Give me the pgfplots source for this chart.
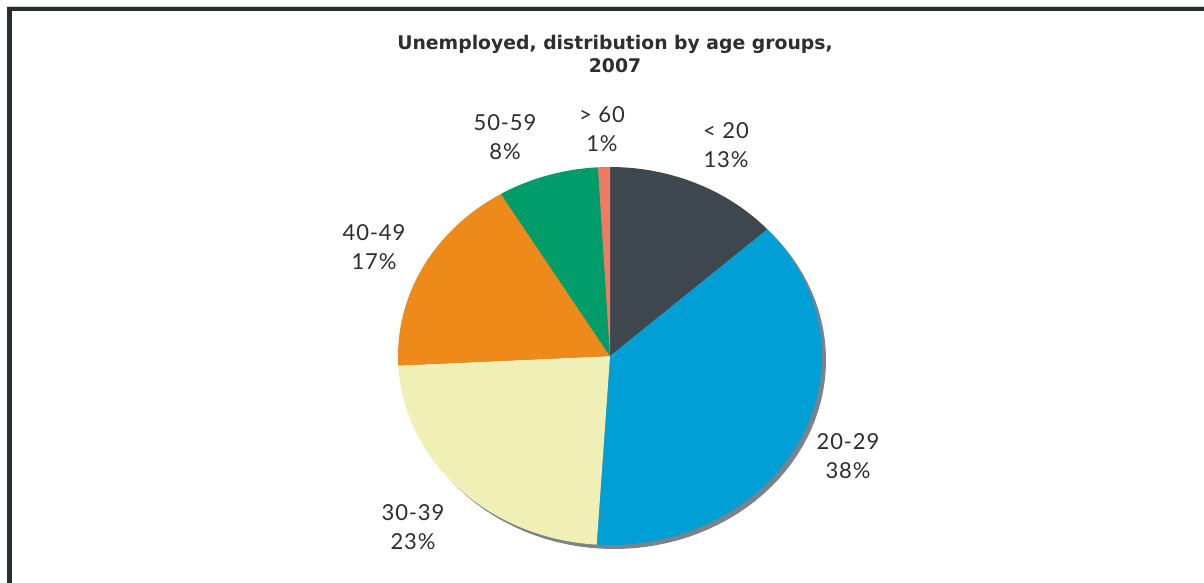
\documentclass[border=0pt]{standalone}
\usepackage{pgfplots}
\pgfplotsset{compat=1.18}
\usepackage{fontspec}
\setmainfont{Lato}
\newfontfamily\titlefont{DejaVu Sans}
\newfontfamily\labfont[LetterSpace=4]{Lato}
\definecolor{cA}{HTML}{3D474D}
\definecolor{cB}{HTML}{00A0D6}
\definecolor{cC}{HTML}{F0EFB5}
\definecolor{cD}{HTML}{EE8A19}
\definecolor{cE}{HTML}{009C6A}
\definecolor{cF}{HTML}{EF7B63}
\definecolor{shad}{HTML}{78838C}
\definecolor{frame}{HTML}{2A2D30}
\definecolor{txt}{HTML}{2E2E2E}
% shares (percent), clockwise from 12 o'clock
\def\vA{13.3}\def\vB{37.7}\def\vC{23.2}\def\vD{17.2}\def\vE{7.7}\def\vF{0.9}
\pgfmathsetmacro\aA{90}
\pgfmathsetmacro\aB{\aA-3.6*\vA}
\pgfmathsetmacro\aC{\aB-3.6*\vB}
\pgfmathsetmacro\aD{\aC-3.6*\vC}
\pgfmathsetmacro\aE{\aD-3.6*\vD}
\pgfmathsetmacro\aF{\aE-3.6*\vE}
\pgfmathsetmacro\aG{\aF-3.6*\vF}
\begin{document}
\begin{tikzpicture}
\begin{axis}[
  width=1204pt, height=583pt, scale only axis,
  xmin=0, xmax=1204, ymin=0, ymax=583,
  hide axis, clip=false,
]
\fill[white] (axis cs:0,0) rectangle (axis cs:1204,583);
% frame
\fill[gray!40] (axis cs:7,576) rectangle (axis cs:1204,577);
\fill[frame] (axis cs:7,572) rectangle (axis cs:1204,576);
\fill[frame] (axis cs:7,0) rectangle (axis cs:12,576);
% shadow
\addplot[fill=shad, draw=none, domain=0:360, samples=120] ({614+212*cos(x)},{223+189*sin(x)}) -- cycle;
% slices
\addplot[fill=cA, draw=none, domain=\aB:\aA, samples=40] ({610+212*cos(x)},{227+189*sin(x)}) -- (axis cs:610,227) -- cycle;
\addplot[fill=cB, draw=none, domain=\aC:\aB, samples=80] ({610+212*cos(x)},{227+189*sin(x)}) -- (axis cs:610,227) -- cycle;
\addplot[fill=cC, draw=none, domain=\aD:\aC, samples=60] ({610+212*cos(x)},{227+189*sin(x)}) -- (axis cs:610,227) -- cycle;
\addplot[fill=cD, draw=none, domain=\aE:\aD, samples=50] ({610+212*cos(x)},{227+189*sin(x)}) -- (axis cs:610,227) -- cycle;
\addplot[fill=cE, draw=none, domain=\aF:\aE, samples=30] ({610+212*cos(x)},{227+189*sin(x)}) -- (axis cs:610,227) -- cycle;
\addplot[fill=cF, draw=none, domain=\aG:\aF, samples=10] ({610+212*cos(x)},{227+189*sin(x)}) -- (axis cs:610,227) -- cycle;
% title
\node[font=\titlefont\bfseries\fontsize{18.8}{23}\selectfont, text=txt, align=center] at (axis cs:615,529) {Unemployed, distribution by age groups,\\2007};
% labels
\begin{scope}[every node/.style={font=\labfont\fontsize{22}{28.5}\selectfont, text=txt, align=center}]
\node at (axis cs:726,438) {<~20\\13\%};
\node at (axis cs:848,127) {20-29\\38\%};
\node at (axis cs:413,56) {30-39\\23\%};
\node at (axis cs:374,336) {40-49\\17\%};
\node at (axis cs:505,446) {50-59\\8\%};
\node at (axis cs:602,454) {>~60\\1\%};
\end{scope}
\end{axis}
\end{tikzpicture}
\end{document}
